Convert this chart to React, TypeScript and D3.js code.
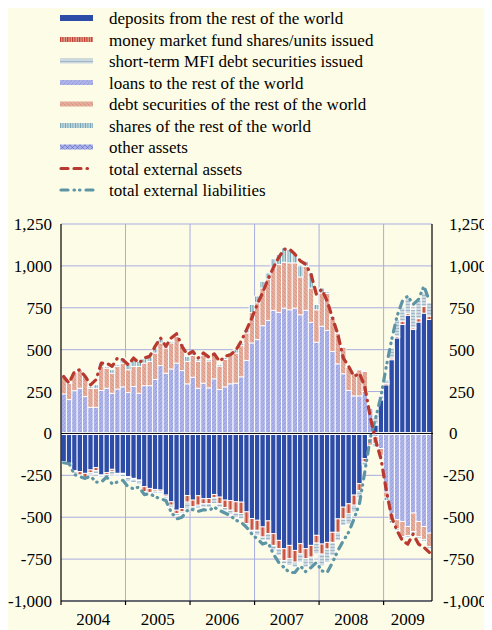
"use client"

import * as React from "react"
import * as d3 from "d3"

// monthly observations, January 2004 to September 2009 (EUR billions, 12-month flows)
const months = d3.timeMonth.range(new Date(2004, 0, 1), new Date(2009, 9, 1))
const yearLabels = ["2004", "2005", "2006", "2007", "2008", "2009"]
const yTicks = [-1000, -750, -500, -250, 0, 250, 500, 750, 1000, 1250]
const yTickLabels = ["-1,000", "-750", "-500", "-250", "0", "250", "500", "750", "1,000", "1,250"]

const deposits = [
  -168, -178, -222, -228, -238, -218, -204, -248, -234, -214, -238, -238,
  -258, -268, -278, -318, -328, -334, -338, -368, -408, -458, -448, -370,
  -398, -372, -390, -388, -364, -380, -398, -400, -408, -410, -468, -508,
  -518, -558, -522, -598, -638, -688, -668, -698, -658, -688, -668, -608,
  -660, -650, -590, -510, -440, -420, -368, -300, -150, -15, 50, 200,
  290, 440, 570, 650, 705, 620, 665, 718, 680,
]
const mmfShares = [
  0, 0, -5, -20, -24, -16, -18, -5, -12, -12, -5, -5,
  -5, -5, -5, -30, -25, -10, -10, -10, -20, -20, -20, -40,
  -40, -56, -30, -30, -20, -40, -44, -58, -66, -68, -70, -70,
  -60, -60, -76, -70, -50, -70, -80, -70, -60, -60, -70, -46,
  -60, -40, -60, -80, -70, -60, -60, -40, -20, -5, 5, 5,
  10, 10, 10, 20, 10, 10, 20, 40, 20,
]
const shortTermDebt = [
  -10, -10, -10, -5, -5, -14, -16, -10, -12, -22, -10, -15,
  -25, -20, -20, -5, -5, -14, -10, -10, -15, -10, -10, -40,
  -15, -20, -20, -25, -34, -20, -20, -24, -28, -32, -10, -10,
  -30, -20, -40, -30, -40, -20, -40, -30, -50, -50, -50, -64,
  -70, -80, -80, -50, -40, -60, -40, -40, -20, -10, 40, 20,
  20, 60, 100, 80, 90, 110, 110, 80, 80,
]
const loans = [
  236, 202, 255, 270, 220, 156, 156, 256, 270, 240, 265, 278,
  245, 280, 240, 285, 285, 322, 405, 360, 385, 420, 375, 296,
  336, 270, 300, 272, 326, 262, 278, 296, 300, 338, 436, 540,
  560, 643, 675, 735, 723, 748, 738, 748, 708, 735, 663, 545,
  640, 615, 489, 415, 356, 256, 224, 224, 250, 150, -20, -90,
  -350, -480, -515, -525, -555, -475, -525, -555, -595,
]
const debtSecurities = [
  104, 98, 110, 110, 120, 114, 114, 144, 120, 120, 135, 142,
  135, 120, 160, 135, 145, 158, 135, 150, 155, 160, 145, 134,
  130, 160, 168, 160, 146, 140, 164, 174, 180, 186, 164, 182,
  220, 225, 247, 253, 285, 274, 280, 270, 226, 263, 205, 193,
  198, 220, 199, 184, 159, 139, 132, 156, 120, -40, -40, -40,
  -30, -40, -55, -90, -55, -110, -90, -80, -80,
]
const sharesRow = [
  5, 5, 5, 5, 5, 10, 20, 20, 10, 20, 10, 30,
  45, 40, 30, 25, 25, 30, 20, 10, 10, 10, 15, 30,
  10, 10, 10, 10, 10, 10, 10, 10, 20, 15, 20, 48,
  40, 40, 36, 54, 60, 86, 80, 56, 66, 30, 90, 32,
  30, 10, 10, 5, 5, 5, 5, 5, 5, 0, -20, -10,
  -20, -15, -10, -10, -10, -10, -10, -10, -10,
]
const otherAssets = [
  0, 0, 0, 0, 0, 0, 0, 0, 0, 0, 0, 0,
  0, 0, 0, 0, 0, 0, 0, 0, 0, 0, 0, 0,
  0, 0, 0, 0, 0, 0, 0, 0, 0, 0, 0, 0,
  0, 0, 0, 0, 0, 0, 0, 0, 0, 0, 0, 0,
  0, 0, 0, 0, 0, 0, 0, 0, 0, 0, 0, 0,
  0, 0, 0, 0, 0, 0, 0, 0, 0,
]
const totalAssets = [
  340, 300, 370, 380, 340, 290, 320, 420, 420, 400, 450, 440,
  410, 450, 420, 450, 460, 520, 570, 520, 570, 595, 520, 470,
  490, 450, 480, 455, 475, 430, 460, 470, 495, 550, 618, 690,
  770, 840, 920, 990, 1050, 1100, 1100, 1070, 1030, 1010, 950, 830,
  860, 790, 690, 590, 450, 400, 340, 360, 280, 100, -40, -150,
  -340, -500, -580, -640, -660, -600, -660, -680, -710,
]
const totalLiabilities = [
  -175, -180, -245, -258, -268, -255, -290, -290, -260, -300, -290, -280,
  -320, -330, -320, -365, -358, -378, -390, -400, -470, -510, -500, -460,
  -455, -465, -455, -460, -440, -460, -475, -490, -518, -530, -560, -600,
  -630, -660, -650, -720, -770, -800, -830, -830, -790, -825, -800, -770,
  -820, -830, -770, -700, -640, -590, -510, -420, -230, -30, 90, 220,
  400, 560, 700, 790, 820, 770, 800, 880, 790,
]

const barKeys = ["deposits", "mmf", "shortTerm", "loans", "debt", "shares", "other"]
const barValues: Record<string, number[]> = {
  deposits,
  mmf: mmfShares,
  shortTerm: shortTermDebt,
  loans,
  debt: debtSecurities,
  shares: sharesRow,
  other: otherAssets,
}
const legendLabels: [string, string][] = [
  ["deposits", "deposits from the rest of the world"],
  ["mmf", "money market fund shares/units issued"],
  ["shortTerm", "short-term MFI debt securities issued"],
  ["loans", "loans to the rest of the world"],
  ["debt", "debt securities of the rest of the world"],
  ["shares", "shares of the rest of the world"],
  ["other", "other assets"],
  ["assets", "total external assets"],
  ["liabilities", "total external liabilities"],
]

const BG = "#fdfce7"
const GRID = "#a9addf"
const fills: Record<string, string> = {
  deposits: "#2d4ca8",
  mmf: "url(#pat-mmf)",
  shortTerm: "url(#pat-short)",
  loans: "url(#pat-loans)",
  debt: "url(#pat-debt)",
  shares: "url(#pat-shares)",
  other: "url(#pat-other)",
}
const legendFills: Record<string, string> = { ...fills, mmf: "url(#pat-mmf-leg)" }
const lineStyles: Record<string, { color: string; dash: string }> = {
  assets: { color: "#b8392d", dash: "7,6,7,6,0.5,6" },
  liabilities: { color: "#5d95a5", dash: "7,6,0.5,5,0.5,6" },
}

const left = 61
const right = 432
const top = 224
const bottom = 601
const txt: React.CSSProperties = { fontFamily: "serif", fontSize: "17px" }

export default function App(): React.JSX.Element {
  const xScale = d3.scaleBand<Date>().domain(months).range([left, right]).padding(0)
  const bw = xScale.bandwidth()
  const yScale = d3.scaleLinear().domain([-1000, 1250]).range([bottom, top])

  const table = months.map((m, i) => {
    const row: Record<string, any> = { date: m }
    barKeys.forEach((k) => (row[k] = barValues[k][i]))
    return row
  })
  const stacked = d3.stack<any>().keys(barKeys).offset(d3.stackOffsetDiverging)(table)

  const line = d3
    .line<number>()
    .x((_, i) => xScale(months[i])! + bw / 2)
    .y((d) => yScale(d))
  const totals: [string, number[]][] = [
    ["liabilities", totalLiabilities],
    ["assets", totalAssets],
  ]

  const yearStarts = yearLabels.map((y) => new Date(+y, 0, 1))
  const rowY = d3
    .scalePoint<string>()
    .domain(legendLabels.map((d) => d[0]))
    .range([18, 190])

  return (
    <svg width={492} height={630} style={{ display: "block", margin: "-8px 0 0 -8px" }}>
      <defs>
        <pattern id="pat-loans" patternUnits="userSpaceOnUse" width={4} height={4}>
          <rect width={4} height={4} fill="#adb3e7" />
          <path d="M-1,1 l2,-2 M0,4 l4,-4 M3,5 l2,-2" stroke="#6a76cf" strokeWidth={0.5} strokeDasharray="1.2,0.8" />
        </pattern>
        <pattern id="pat-debt" patternUnits="userSpaceOnUse" width={4} height={4}>
          <rect width={4} height={4} fill="#e4ac9b" />
          <path d="M-1,3 l2,2 M0,0 l4,4 M3,-1 l2,2" stroke="#cc6a55" strokeWidth={0.5} strokeDasharray="1.2,0.8" />
        </pattern>
        <pattern id="pat-shares" patternUnits="userSpaceOnUse" width={2.5} height={4}>
          <rect width={2.5} height={4} fill="#bcd6dd" />
          <rect x={0} width={0.7} height={4} fill="#6497a7" />
        </pattern>
        <pattern id="pat-short" patternUnits="userSpaceOnUse" width={4} height={3}>
          <rect width={4} height={3} fill="#cdd9e1" />
          <rect y={1.2} width={4} height={0.7} fill="#8eaab8" />
        </pattern>
        <pattern id="pat-mmf" patternUnits="userSpaceOnUse" x={left} width={bw} height={4}>
          <rect width={bw} height={4} fill="#e3a391" />
          <rect x={bw / 2 - 0.7} width={1.4} height={4} fill="#c0392b" />
        </pattern>
        <pattern id="pat-mmf-leg" patternUnits="userSpaceOnUse" width={2.4} height={4}>
          <rect width={2.4} height={4} fill="#e3a391" />
          <rect x={0} width={1.1} height={4} fill="#c0392b" />
        </pattern>
        <pattern id="pat-other" patternUnits="userSpaceOnUse" width={5} height={5}>
          <rect width={5} height={5} fill="#a9b0e6" />
          <path d="M0,0 L5,5 M5,0 L0,5" stroke="#5a68c8" strokeWidth={0.6} />
        </pattern>
      </defs>
      <rect width={492} height={630} fill={BG} />

      {/* grid */}
      {yTicks.map((t) => (
        <line key={"gy" + t} x1={left} x2={right} y1={yScale(t)} y2={yScale(t)} stroke={GRID} strokeWidth={1} />
      ))}
      {yearStarts.slice(1).map((d) => (
        <line key={"gx" + d.getFullYear()} x1={xScale(d)} x2={xScale(d)} y1={top} y2={bottom} stroke={GRID} strokeWidth={1} />
      ))}

      {/* stacked bars */}
      {stacked.map((s) => (
        <g key={s.key} fill={fills[s.key]} stroke="#ffffff" strokeWidth={0.9}>
          {s
            .filter((d) => d[1] !== d[0])
            .map((d, i) => (
              <rect
                key={i}
                x={xScale(d.data.date)}
                width={bw}
                y={yScale(Math.max(d[0], d[1]))}
                height={Math.abs(yScale(d[0]) - yScale(d[1]))}
              />
            ))}
        </g>
      ))}

      {/* zero line */}
      <line x1={left} x2={right} y1={yScale(0)} y2={yScale(0)} stroke="#ffffff" strokeWidth={3} />
      <line x1={left} x2={right + 1} y1={yScale(0)} y2={yScale(0)} stroke="#000" strokeWidth={1} />

      {/* totals */}
      {totals.map(([key, vals]) => (
        <path
          key={key}
          d={line(vals) ?? ""}
          fill="none"
          stroke={lineStyles[key].color}
          strokeWidth={3.2}
          strokeLinecap="round"
          strokeLinejoin="round"
          strokeDasharray={lineStyles[key].dash}
        />
      ))}

      {/* axes */}
      <g stroke="#000" strokeWidth={1.2}>
        <line x1={left} x2={left} y1={top} y2={bottom} />
        <line x1={right} x2={right} y1={top} y2={bottom} />
        <line x1={left} x2={right} y1={bottom} y2={bottom} />
        {yearStarts.map((d) => (
          <line key={"tk" + d.getFullYear()} x1={xScale(d)} x2={xScale(d)} y1={bottom} y2={bottom + 4} />
        ))}
      </g>

      {yTicks.map((t, i) => (
        <text key={"l" + t} x={52} y={yScale(t) + 6} textAnchor="end" style={txt}>
          {yTickLabels[i]}
        </text>
      ))}
      {yTicks.map((t, i) => (
        <text key={"r" + t} x={t < 0 ? 443 : 449} y={yScale(t) + 6} textAnchor="start" style={txt}>
          {yTickLabels[i]}
        </text>
      ))}
      {yearStarts.map((d, i) => {
        const x0 = xScale(d)!
        const x1 = i < yearStarts.length - 1 ? xScale(yearStarts[i + 1])! : right
        return (
          <text key={"yr" + i} x={(x0 + x1) / 2} y={625} textAnchor="middle" style={txt}>
            {yearLabels[i]}
          </text>
        )
      })}

      {/* legend */}
      {legendLabels.map(([key, label]) => {
        const cy = rowY(key)!
        const h = key === "deposits" ? 6 : 5
        return (
          <g key={key}>
            {lineStyles[key] ? (
              <line
                x1={61}
                x2={93}
                y1={cy}
                y2={cy}
                stroke={lineStyles[key].color}
                strokeWidth={3.2}
                strokeLinecap="round"
                strokeDasharray={lineStyles[key].dash}
              />
            ) : (
              <rect x={60} y={cy - h / 2} width={33} height={h} fill={legendFills[key]} />
            )}
            <text x={109} y={cy + 6} style={txt}>
              {label}
            </text>
          </g>
        )
      })}
    </svg>
  )
}
